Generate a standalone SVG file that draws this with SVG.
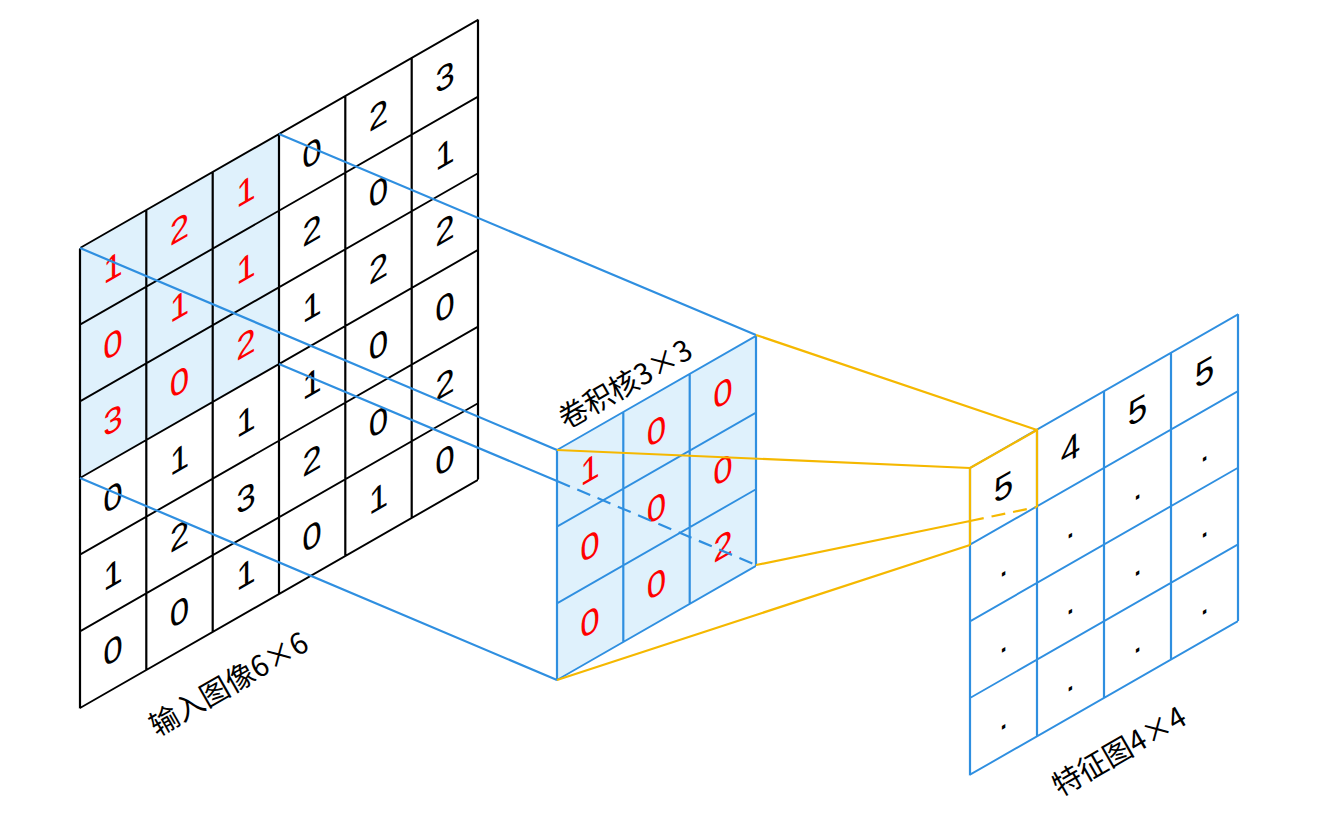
<svg xmlns="http://www.w3.org/2000/svg" width="1321" height="823" viewBox="0 0 1321 823">
<style>
.d{font-family:"Liberation Sans",Arial,sans-serif;font-size:35px;text-anchor:middle}
.k{fill:#000}.r{fill:#ff0000}
.lb{font-family:"Noto Sans CJK SC",sans-serif;font-size:29px}
.gb{stroke:#000;stroke-width:2.2;fill:none}
.gu{stroke:#2f8fe0;stroke-width:2.2;fill:none}
.y{stroke:#f5b800;stroke-width:2.2;fill:none}
</style>
<rect width="1321" height="823" fill="#fff"/>
<g id="input" transform="matrix(1,-0.573,0,1,80,248)">
<rect x="0" y="0" width="199" height="230" fill="#dff1fc"/>
<path class="gb" d="M0 0V460M66.3 0V460M132.7 0V460M199 0V460M265.3 0V460M331.7 0V460M398 0V460M0 0H398M0 76.7H398M0 153.3H398M0 230H398M0 306.7H398M0 383.3H398M0 460H398"/>
<g class="d">
<text x="33" y="50" class="r">1</text><text x="99.5" y="50" class="r">2</text><text x="166" y="50" class="r">1</text><text x="232" y="50">0</text><text x="298.5" y="50">2</text><text x="365" y="50">3</text>
<text x="33" y="127" class="r">0</text><text x="99.5" y="127" class="r">1</text><text x="166" y="127" class="r">1</text><text x="232" y="127">2</text><text x="298.5" y="127">0</text><text x="365" y="127">1</text>
<text x="33" y="203" class="r">3</text><text x="99.5" y="203" class="r">0</text><text x="166" y="203" class="r">2</text><text x="232" y="203">1</text><text x="298.5" y="203">2</text><text x="365" y="203">2</text>
<text x="33" y="280">0</text><text x="99.5" y="280">1</text><text x="166" y="280">1</text><text x="232" y="280">1</text><text x="298.5" y="280">0</text><text x="365" y="280">0</text>
<text x="33" y="357">1</text><text x="99.5" y="357">2</text><text x="166" y="357">3</text><text x="232" y="357">2</text><text x="298.5" y="357">0</text><text x="365" y="357">2</text>
<text x="33" y="433">0</text><text x="99.5" y="433">0</text><text x="166" y="433">1</text><text x="232" y="433">0</text><text x="298.5" y="433">1</text><text x="365" y="433">0</text>
</g>
</g>
<text class="lb" transform="translate(157,737) rotate(-29.8)">输入图像6×6</text>
<g id="kernel" transform="matrix(1,-0.573,0,1,557,450)">
<rect x="0" y="0" width="199" height="230" fill="#dff1fc"/>
<path class="gu" d="M0 0V230M66.3 0V230M132.7 0V230M199 0V230M0 0H199M0 76.7H199M0 153.3H199M0 230H199"/>
<g class="d r">
<text x="33" y="50">1</text><text x="99.5" y="50">0</text><text x="166" y="50">0</text>
<text x="33" y="127">0</text><text x="99.5" y="127">0</text><text x="166" y="127">0</text>
<text x="33" y="203">0</text><text x="99.5" y="203">0</text><text x="166" y="203">2</text>
</g>
</g>
<text class="lb" transform="translate(566,430) rotate(-29.8)">卷积核3×3</text>
<g id="feature" transform="matrix(1,-0.573,0,1,970,468)">
<path class="gu" d="M0 0V307M67 0V307M134 0V307M201 0V307M268 0V307M0 0H268M0 76.7H268M0 153.3H268M0 230H268M0 306.7H268"/>
<g class="d">
<text x="33.5" y="50">5</text><text x="100.5" y="50">4</text><text x="167.5" y="50">5</text><text x="234.5" y="50">5</text>
<text x="33.5" y="127">.</text><text x="100.5" y="127">.</text><text x="167.5" y="127">.</text><text x="234.5" y="127">.</text>
<text x="33.5" y="203">.</text><text x="100.5" y="203">.</text><text x="167.5" y="203">.</text><text x="234.5" y="203">.</text>
<text x="33.5" y="280">.</text><text x="100.5" y="280">.</text><text x="167.5" y="280">.</text><text x="234.5" y="280">.</text>
</g>
</g>
<text class="lb" transform="translate(1060,797) rotate(-29.8)">特征图4×4</text>
<g id="connectors">
<path class="gu" d="M279 134L756 335M80 248L557 450M80 478L557 680M279 364L557 481"/>
<path class="gu" stroke-dasharray="14 8" d="M557 481L756 565"/>
<path class="y" d="M756 335L1037 430M557 450L970 468M557 680L970 545M756 565L970 521M970 468V545M970 468L1037 430V507"/>
<path class="y" stroke-dasharray="14 8" d="M970 521L1037 507"/>
</g>
</svg>
